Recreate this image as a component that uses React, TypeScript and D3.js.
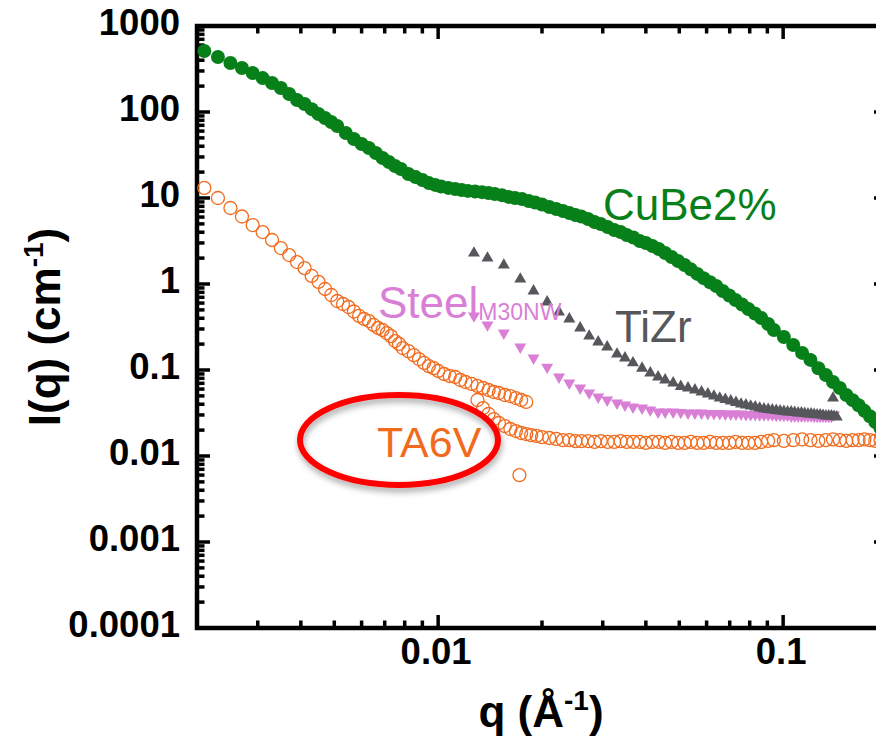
import React from "react";
import * as d3 from "d3";

// SANS curves: q in 1/Å, I(q) in 1/cm
const CUBE_Q = [
  0.0021, 0.0023, 0.0025, 0.0027, 0.0029, 0.0031, 0.0033, 0.0035, 0.0037, 0.0039,
  0.0041, 0.0043, 0.0045, 0.0047, 0.0049, 0.0051, 0.0054, 0.0057, 0.006, 0.0063,
  0.0066, 0.0069, 0.0072, 0.0075, 0.0078, 0.0082, 0.0086, 0.009, 0.0094, 0.0098,
  0.0102, 0.0107, 0.0112, 0.0117, 0.0122, 0.0128, 0.0134, 0.014, 0.0146, 0.0153,
  0.016, 0.0167, 0.0175, 0.0183, 0.0191, 0.02, 0.021, 0.022, 0.023, 0.024,
  0.025, 0.026, 0.0272, 0.0284, 0.0296, 0.031, 0.0324, 0.0338, 0.0352, 0.0368,
  0.0384, 0.04, 0.0418, 0.0436, 0.0455, 0.0475, 0.0496, 0.0518, 0.054, 0.0564,
  0.0588, 0.0614, 0.064, 0.0668, 0.0698, 0.0728, 0.076, 0.0793, 0.0828, 0.0864,
  0.0905, 0.094, 0.1005, 0.107, 0.1135, 0.12, 0.1265, 0.133, 0.1395, 0.146,
  0.1525, 0.159, 0.1655, 0.172, 0.1785, 0.185, 0.1915,
];
const CUBE_I = [
  512, 436, 371, 325, 284, 248, 217, 190, 162, 138,
  124, 108, 94.8, 85.1, 76.5, 68.7, 57.0, 48.5, 42.5, 38.1,
  33.3, 29.2, 26.2, 23.6, 21.7, 19.0, 17.5, 16.2, 14.9, 14.2,
  13.6, 13.1, 12.7, 12.4, 12.1, 11.9, 11.7, 11.4, 11.1, 10.8,
  10.3, 10.0, 9.73, 9.23, 8.87, 8.4, 7.85, 7.45, 7.06, 6.7,
  6.34, 6.09, 5.7, 5.26, 4.99, 4.6, 4.25, 4.03, 3.71, 3.47,
  3.16, 3.0, 2.77, 2.55, 2.29, 2.06, 1.85, 1.66, 1.48, 1.31,
  1.17, 1.05, 0.948, 0.83, 0.735, 0.652, 0.578, 0.512, 0.454, 0.403,
  0.343, 0.292, 0.242, 0.195, 0.158, 0.131, 0.105, 0.0875, 0.0725, 0.0618,
  0.0512, 0.0446, 0.0389, 0.0335, 0.029, 0.0248, 0.021,
];

// TA6V, low-q configuration
const TA6V_LOW_Q = [
  0.0021, 0.0023, 0.0025, 0.0027, 0.0029, 0.0031, 0.0033, 0.0035, 0.0037, 0.0039,
  0.0041, 0.0043, 0.0045, 0.0047, 0.0049, 0.0051, 0.0053, 0.0055, 0.0057, 0.0059,
  0.0061, 0.0063, 0.0065, 0.0067, 0.0069, 0.0071, 0.0073, 0.0075, 0.0077, 0.0079,
  0.0082, 0.0085, 0.0088, 0.0091, 0.0094, 0.0097, 0.01, 0.0104, 0.0108, 0.0112,
  0.0116, 0.012, 0.0125, 0.013, 0.0135, 0.014, 0.0145, 0.015, 0.0156, 0.0162,
  0.0168, 0.0174, 0.018,
];
const TA6V_LOW_I = [
  13.1, 10.0, 7.65, 6.09, 4.85, 4.02, 3.25, 2.62, 2.17, 1.8,
  1.53, 1.24, 1.06, 0.875, 0.745, 0.634, 0.585, 0.54, 0.479, 0.425,
  0.392, 0.371, 0.334, 0.308, 0.292, 0.269, 0.248, 0.217, 0.201, 0.18,
  0.166, 0.149, 0.134, 0.121, 0.111, 0.105, 0.0974, 0.0899, 0.0852, 0.0829,
  0.0765, 0.0725, 0.0688, 0.0652, 0.0618, 0.0585, 0.0555, 0.054, 0.0512, 0.0498,
  0.0472, 0.0448, 0.0425,
];

// TA6V, high-q configuration (plus the lone low point)
const TA6V_HIGH_Q = [
  0.013, 0.0135, 0.014, 0.0145, 0.015, 0.0156, 0.0162, 0.0168, 0.0174, 0.018,
  0.0186, 0.0193, 0.02, 0.021, 0.022, 0.023, 0.024, 0.025, 0.026, 0.0272,
  0.0284, 0.0296, 0.031, 0.0324, 0.0338, 0.0352, 0.0368, 0.0384, 0.04, 0.0418,
  0.0436, 0.0455, 0.0475, 0.0496, 0.0518, 0.054, 0.0564, 0.0588, 0.0614, 0.064,
  0.0668, 0.0698, 0.0728, 0.076, 0.0793, 0.0828, 0.0864,
  0.0905, 0.094, 0.1005, 0.107, 0.1135, 0.12, 0.1265, 0.133, 0.1395, 0.146,
  0.1525, 0.159, 0.1655, 0.172, 0.1785, 0.185, 0.1915,
  0.0172,
];
const TA6V_HIGH_I = [
  0.0448, 0.0361, 0.0308, 0.0269, 0.0242, 0.0223, 0.0206, 0.0195, 0.0185, 0.018,
  0.0175, 0.0171, 0.0166, 0.0162, 0.0158, 0.0153, 0.0153, 0.0149, 0.0149, 0.0149,
  0.0146, 0.0149, 0.0146, 0.0146, 0.0149, 0.0146, 0.0146, 0.0146, 0.0142, 0.0146,
  0.0146, 0.0142, 0.0146, 0.0142, 0.0142, 0.0146, 0.0142, 0.0142, 0.0146, 0.0142,
  0.0142, 0.0142, 0.0146, 0.0142, 0.0142, 0.0142, 0.0146,
  0.015, 0.0153, 0.015, 0.0153, 0.0156, 0.0153, 0.015, 0.0153, 0.0156, 0.0153,
  0.015, 0.0153, 0.0153, 0.0156, 0.0153, 0.015, 0.0153,
  0.006,
];

const TIZR_Q = [
  0.0127, 0.0139, 0.0155, 0.0173, 0.0189, 0.0207, 0.0224, 0.024, 0.0258, 0.0274,
  0.0291, 0.0309, 0.033, 0.0348, 0.0367, 0.039, 0.0412, 0.0434,
  0.0455, 0.048, 0.0505, 0.053, 0.0555, 0.058, 0.0605, 0.063, 0.0655, 0.068,
  0.0705, 0.073, 0.0755, 0.078, 0.0805, 0.083, 0.0855, 0.088, 0.0905, 0.093,
  0.0955, 0.098, 0.1005, 0.103, 0.1055, 0.108, 0.1105, 0.113, 0.1155, 0.118,
  0.1205, 0.123, 0.1255, 0.128, 0.1305, 0.133, 0.1355, 0.138, 0.1405, 0.143,
  0.1395,
];
const TIZR_I = [
  2.29, 2.0, 1.66, 1.14, 0.83, 0.618, 0.472, 0.392, 0.308, 0.248,
  0.212, 0.185, 0.153, 0.138, 0.121, 0.105, 0.0923, 0.0829,
  0.0765, 0.0706, 0.0643, 0.0618, 0.0585, 0.0555, 0.0526, 0.0498, 0.0472, 0.0454,
  0.0436, 0.0419, 0.0402, 0.0392, 0.0381, 0.0371, 0.0361, 0.0352, 0.0347, 0.0343,
  0.0338, 0.0334, 0.0329, 0.0325, 0.0325, 0.0321, 0.0316, 0.0316, 0.0312, 0.0308,
  0.0308, 0.0304, 0.0301, 0.0301, 0.0297, 0.0292, 0.0292, 0.0292, 0.0289, 0.0284,
  0.0472,
];

const STEEL_Q = [
  0.0127, 0.0139, 0.0155, 0.0173, 0.0189, 0.0207, 0.0224, 0.024, 0.0258, 0.0274,
  0.0291, 0.0309, 0.033, 0.0348, 0.0367, 0.039, 0.0412, 0.0434,
  0.0455, 0.048, 0.0505, 0.053, 0.0555, 0.058, 0.0605, 0.063, 0.0655, 0.068,
  0.0705, 0.073, 0.0755, 0.078, 0.0805, 0.083, 0.0855, 0.088, 0.0905, 0.093,
  0.0955, 0.098, 0.1005, 0.103, 0.1055, 0.108, 0.1105, 0.113, 0.1155, 0.118,
  0.1205, 0.123, 0.1255, 0.128, 0.1305, 0.133, 0.1355, 0.138, 0.1405,
];
const STEEL_I = [
  0.425, 0.334, 0.269, 0.185, 0.138, 0.108, 0.0829, 0.0706, 0.0618, 0.0541,
  0.0485, 0.0448, 0.0413, 0.0392, 0.0371, 0.0361, 0.0343, 0.0325,
  0.0325, 0.0325, 0.0321, 0.0316, 0.0316, 0.0316, 0.0312, 0.0312, 0.0312, 0.0308,
  0.0308, 0.0308, 0.0308, 0.0304, 0.0304, 0.0304, 0.0301, 0.0301, 0.0301, 0.0301,
  0.0297, 0.0297, 0.0297, 0.0297, 0.0292, 0.0292, 0.0292, 0.0292, 0.0292, 0.0292,
  0.0292, 0.0289, 0.0289, 0.0289, 0.0289, 0.0289, 0.0289, 0.0289, 0.0301,
];

const Y_TICK_LABELS = ["1000", "100", "10", "1", "0.1", "0.01", "0.001", "0.0001"];
const X_TICK_LABELS = ["0.01", "0.1"];

const FONT = "'Liberation Sans', Arial, Helvetica, sans-serif";
const COLORS = {
  cube: "#08801a",
  ta6v: "#f26b1d",
  steel: "#d97fd6",
  tizr: "#56575b",
};

const W = 876;
const H = 739;
const PLOT = { left: 197, right: 887, top: 26, bottom: 628 };

const zip = (qs: number[], is: number[]) => qs.map((q, k) => ({ q, i: is[k] }));

export default function App() {
  const x = d3.scaleLog().domain([0.002, 0.2]).range([PLOT.left, PLOT.right]);
  const y = d3.scaleLog().domain([1e-4, 1e3]).range([PLOT.bottom, PLOT.top]);

  const isMajor = (t: number) => Math.abs(Math.log10(t) - Math.round(Math.log10(t))) < 1e-6;
  const xTicks = x.ticks();
  const yTicks = y.ticks();

  const tri = d3.symbol().type(d3.symbolTriangle).size(62)();

  const cube = zip(CUBE_Q, CUBE_I);
  const ta6v = [...zip(TA6V_LOW_Q, TA6V_LOW_I), ...zip(TA6V_HIGH_Q, TA6V_HIGH_I)];
  const steel = zip(STEEL_Q, STEEL_I);
  const tizr = zip(TIZR_Q, TIZR_I);

  const yLabelValues = Y_TICK_LABELS.map(Number);
  const xLabelValues = X_TICK_LABELS.map(Number);

  return (
    <svg
      width={W}
      height={H}
      style={{ position: "absolute", left: 0, top: 0, background: "#fff" }}
      fontFamily={FONT}
    >
      <defs>
        <filter id="shadow" x="-20%" y="-30%" width="140%" height="170%">
          <feDropShadow dx="1" dy="4" stdDeviation="3" floodColor="#000" floodOpacity="0.35" />
        </filter>
      </defs>

      {/* frame */}
      <rect
        x={PLOT.left}
        y={PLOT.top}
        width={PLOT.right - PLOT.left}
        height={PLOT.bottom - PLOT.top}
        fill="none"
        stroke="#000"
        strokeWidth={4.5}
      />

      {/* y ticks, inward on left and right */}
      {yTicks.map((t, k) => {
        const len = isMajor(t) ? 13 : 7.5;
        const yy = y(t);
        return (
          <g key={"y" + k} stroke="#000" strokeWidth={3.5}>
            <line x1={PLOT.left} x2={PLOT.left + len} y1={yy} y2={yy} />
            <line x1={PLOT.right} x2={PLOT.right - len} y1={yy} y2={yy} />
          </g>
        );
      })}

      {/* x ticks, inward on bottom and top */}
      {xTicks.map((t, k) => {
        const len = isMajor(t) ? 13 : 7.5;
        const xx = x(t);
        return (
          <g key={"x" + k} stroke="#000" strokeWidth={3.5}>
            <line x1={xx} x2={xx} y1={PLOT.bottom} y2={PLOT.bottom - len} />
            <line x1={xx} x2={xx} y1={PLOT.top} y2={PLOT.top + len} />
          </g>
        );
      })}

      {/* tick labels */}
      {yLabelValues.map((v, k) => (
        <text
          key={"yl" + k}
          x={180}
          y={y(v) + 9}
          textAnchor="end"
          fontSize={36.5}
          fontWeight="bold"
        >
          {Y_TICK_LABELS[k]}
        </text>
      ))}
      {xLabelValues.map((v, k) => (
        <text
          key={"xl" + k}
          x={x(v) - 2}
          y={664}
          textAnchor="middle"
          fontSize={36.5}
          fontWeight="bold"
        >
          {X_TICK_LABELS[k]}
        </text>
      ))}

      {/* axis titles */}
      <text
        transform="translate(60,327) rotate(-90)"
        textAnchor="middle"
        fontSize={44}
        fontWeight="bold"
      >
        I(q) (cm<tspan dy={-17} fontSize={28}>-1</tspan>
        <tspan dy={17}>)</tspan>
      </text>
      <text x={541} y={727} textAnchor="middle" fontSize={44} fontWeight="bold">
        q (Å<tspan dy={-17} fontSize={28}>-1</tspan>
        <tspan dy={17}>)</tspan>
      </text>

      {/* data */}
      <g fill="none" stroke={COLORS.ta6v} strokeWidth={1.3}>
        {ta6v.map((d, k) => (
          <circle key={k} cx={x(d.q)} cy={y(d.i)} r={6.5} />
        ))}
      </g>
      <g fill={COLORS.steel}>
        {steel.map((d, k) => (
          <path key={k} d={tri || ""} transform={`translate(${x(d.q)},${y(d.i)}) rotate(180)`} />
        ))}
      </g>
      <g fill={COLORS.tizr}>
        {tizr.map((d, k) => (
          <path key={k} d={tri || ""} transform={`translate(${x(d.q)},${y(d.i)})`} />
        ))}
      </g>
      <g fill={COLORS.cube}>
        {cube.map((d, k) => (
          <circle key={k} cx={x(d.q)} cy={y(d.i)} r={7} />
        ))}
      </g>

      {/* series labels */}
      <text x={603} y={220} fontSize={44} fill={COLORS.cube}>
        CuBe2%
      </text>
      <text x={615} y={342} fontSize={44} fill={COLORS.tizr}>
        TiZr
      </text>
      <text x={378} y={318} fontSize={44} fill={COLORS.steel}>
        Steel<tspan fontSize={23} dy={2}>M30NW</tspan>
      </text>
      <text x={377} y={457} fontSize={43} fill={COLORS.ta6v}>
        TA6V
      </text>

      {/* highlight ring */}
      <ellipse
        cx={399}
        cy={440}
        rx={99}
        ry={45}
        fill="none"
        stroke="#ff0000"
        strokeWidth={6}
        filter="url(#shadow)"
      />
    </svg>
  );
}
